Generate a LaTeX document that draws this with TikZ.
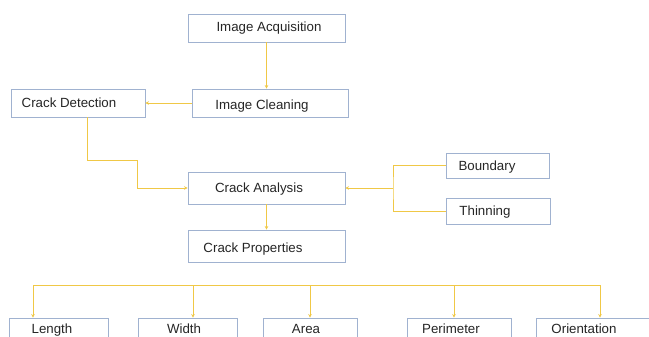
\documentclass[tikz,border=0pt]{standalone}
\usepackage{fontspec}
\setmainfont{Liberation Sans}
\usetikzlibrary{arrows.meta,calc}
\definecolor{boxc}{RGB}{160,178,208}
\definecolor{linec}{RGB}{240,200,70}
\tikzset{
  box/.style={draw=boxc, line width=0.9pt, fill=white, inner sep=0pt},
  lbl/.style={anchor=base, inner sep=0pt, font=\fontsize{13.3}{15}\selectfont, text=black!85},
  conn/.style={draw=linec, line width=0.9pt},
  arr/.style={conn, -{Stealth[length=3.5pt,width=3.5pt]}}
}
\newcommand{\boxat}[5]{% name, x1,y1,x2,y2
  \node[box, minimum width={(#4)-(#2)}, minimum height={(#5)-(#3)}] (#1) at ({((#2)+(#4))/2},{((#3)+(#5))/2}) {};}
\begin{document}
\begin{tikzpicture}[x=1pt,y=-1pt]
\useasboundingbox (0,0) rectangle (649,337);
\clip (0,0) rectangle (649,337);
\fill[white] (0,0) rectangle (649,337);
% boxes
\boxat{acq}{188}{14}{345}{42}
\boxat{clean}{192}{89}{348}{117}
\boxat{det}{11}{89}{145}{117}
\boxat{ana}{188}{172}{345}{204}
\boxat{prop}{188}{230}{345}{262}
\boxat{bnd}{446}{153}{549}{178}
\boxat{thin}{446}{198}{550}{224}
\boxat{len}{9}{318}{108}{350}
\boxat{wid}{138}{318}{237}{350}
\boxat{area}{263}{318}{357}{350}
\boxat{per}{407}{318}{511}{350}
\boxat{ori}{536}{318}{655}{350}
% labels
\node[lbl] (tacq) at (269,32) {Image Acquisition};
\node[lbl] (tclean) at (262,110) {Image Cleaning};
\node[lbl] (tdet) at (69,108) {Crack Detection};
\node[lbl] (tana) at (259,193) {Crack Analysis};
\node[lbl] (tprop) at (253,252) {Crack Properties};
\node[lbl] (tbnd) at (487,171) {Boundary};
\node[lbl] (tthin) at (485,215) {Thinning};
\node[lbl] (tlen) at (52,333) {Length};
\node[lbl] (twid) at (184,333) {Width};
\node[lbl] (tarea) at (306,333) {Area};
\node[lbl] (tper) at (451,333) {Perimeter};
\node[lbl] (tori) at (584,333) {Orientation};
% connectors
\draw[arr] (acq.south) -- (acq.south |- clean.north);
\draw[arr] (clean.west) -- (det.east);
\draw[arr] ($(det.south)+(9,0)$) |- (137,160) |- (ana.west);
\draw[arr] (ana.south) -- (prop.north);
\coordinate (j) at (393,188);
\draw[conn] (bnd.west) -| (j) |- (thin.west);
\draw[arr] (j) -- (ana.east);
% bottom bus
\coordinate (b1) at (33,285);
\coordinate (b2) at (193,285);
\coordinate (b3) at (310,285);
\coordinate (b4) at (454,285);
\coordinate (b5) at (600,285);
\draw[conn] (b1) -- (b5);
\draw[arr] (b1) -- (b1 |- len.north);
\draw[arr] (b2) -- (b2 |- wid.north);
\draw[arr] (b3) -- (b3 |- area.north);
\draw[arr] (b4) -- (b4 |- per.north);
\draw[arr] (b5) -- (b5 |- ori.north);
\end{tikzpicture}
\end{document}
